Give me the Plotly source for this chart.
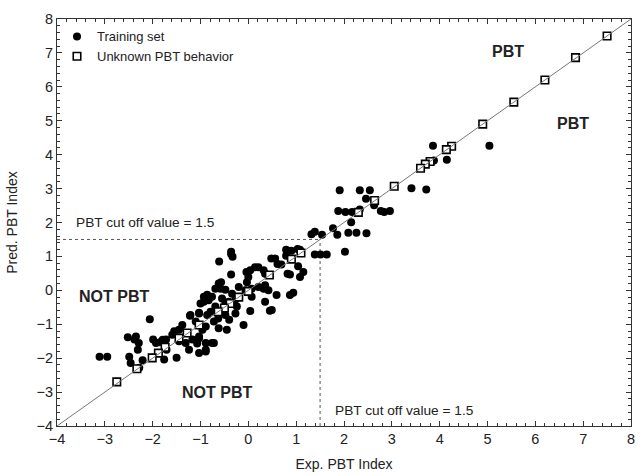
import plotly.graph_objects as go

# ---------------- data ----------------
train_x = [3.86, 5.04, 3.88, 4.15, 3.41, 3.72,
           1.91, 2.33, 2.54, 2.46, 2.63,
           1.88, 2.03, 2.17, 2.33, 2.77, 2.84, 2.96,
           2.15, 2.09, 2.26, 2.47, 1.77, 1.86,
           1.32, 1.39, 1.54,
           2.02, 1.39, 1.51, 1.64,
           0.79, 0.90, 1.03, 1.08,
           0.48, 0.56, 0.79, 0.61, 0.69, 1.04,
           0.14, 0.04, 0.32, 0.82, 1.15, 0.35,
           0.87, 1.08, 0.21,
           -0.36, -0.33, -0.36, -0.61, -0.04, -0.36, -0.57, -0.62,
           -0.86, -0.93, -0.69, -0.58, -0.48, -0.34, -0.20, -0.06, 0.07, 0.21, 0.32, 0.42, 0.59, 0.35, -0.03, 0.00,
           0.87, 0.94,
           0.49, 0.04, 0.45,
           -0.55, -0.48, -0.69, -0.79, -0.86, -0.63, -0.40, -0.27, -0.10, -0.24,
           -0.76, -1.00, -0.83, -0.41, -0.27, 0.07, 0.35,
           -0.93, -1.03, -0.48, -0.72, -0.62, -0.45, -0.89,
           -1.22, -1.10, -1.38, -1.45, -1.59, -1.72, -1.85, -1.93, -2.06,
           -1.55, -1.21, -1.03,
           -2.52, -2.35, -2.38, -2.29, -2.31, -2.49, -2.46, -2.28, -3.11, -2.95,
           -1.99, -1.76, -1.50, -1.03, -0.89, -0.76, -0.89, -1.03, -1.17, -0.96, -1.31, -1.24,
           -2.21, -1.71, -1.03, -0.72, -1.07, -1.45, -1.79, -0.89]
train_y = [4.26, 4.26, 3.83, 3.85, 3.01, 2.97,
           2.95, 2.95, 2.95, 2.70, 2.51,
           2.34, 2.31, 2.31, 2.38, 2.34, 2.31, 2.34,
           2.01, 1.70, 1.70, 1.68, 1.83, 1.64,
           1.65, 1.73, 1.64,
           1.14, 1.06, 1.06, 1.06,
           1.20, 1.17, 1.22, 1.20,
           0.94, 0.94, 1.02, 0.78, 0.76, 0.71,
           0.68, 0.59, 0.59, 0.49, 0.54, 0.49,
           0.47, 0.39, 0.68,
           1.07, 0.99, 1.14, 0.85, 0.54, 0.47, 0.24, 0.20,
           -0.13, -0.19, 0.05, 0.05, 0.02, -0.10, 0.10, 0.00, 0.05, 0.10, 0.05, 0.00, -0.14, 0.15, 0.24, 0.39,
           -0.14, -0.07,
           -0.58, -0.61, -0.60,
           -0.24, -0.39, -0.48, -0.63, -0.73, -0.83, -0.87, -0.68, -1.02, -0.48,
           -0.19, -0.39, -0.29, -0.34, -0.27, -0.19, -0.34,
           -0.34, -0.68, -0.73, -0.92, -1.12, -1.16, -1.07,
           -0.75, -0.92, -1.02, -1.16, -1.31, -1.45, -1.53, -1.55, -0.85,
           -1.21, -0.73, -0.66,
           -1.38, -1.36, -1.45, -1.55, -1.75, -1.96, -2.14, -2.28, -1.96, -1.96,
           -1.45, -2.04, -1.99, -1.85, -1.75, -1.55, -1.55, -1.36, -1.45, -1.16, -1.55, -1.75,
           -2.06, -1.75, -1.41, -1.55, -1.57, -1.50, -1.46, -1.80]

unknown_x = [7.50, 6.84, 6.20, 5.55, 4.90, 4.25, 4.14, 3.80, 3.70, 3.60, 3.05, 2.64, 2.30,
             1.10, 0.90, 0.44, 0.00, -0.20, -0.38, -0.50, -0.63, -1.03, -1.28, -1.45,
             -1.74, -1.88, -2.01, -2.33, -2.75]
unknown_y = [7.50, 6.86, 6.20, 5.55, 4.90, 4.25, 4.15, 3.80, 3.72, 3.60, 3.07, 2.65, 2.30,
             1.10, 0.92, 0.45, -0.03, -0.20, -0.39, -0.52, -0.63, -1.02, -1.26, -1.41,
             -1.68, -1.85, -1.99, -2.31, -2.70]

axis_range = [-4, 8]
identity_line = [-4, 8]
cutoff = 1.5

FONT = "Liberation Sans, Arial, sans-serif"
TXT = "#222222"

fig = go.Figure()
fig.add_trace(go.Scatter(
    x=train_x, y=train_y, mode="markers", name="Training set",
    marker=dict(symbol="circle", size=8, color="black", line=dict(width=0))))
fig.add_trace(go.Scatter(
    x=unknown_x, y=unknown_y, mode="markers", name="Unknown PBT behavior",
    marker=dict(symbol="square", size=7.5, color="white",
                line=dict(width=1.6, color="black"))))
fig.add_trace(go.Scatter(
    x=identity_line, y=identity_line, mode="lines", showlegend=False,
    line=dict(color="#777777", width=1), hoverinfo="skip"))

# cut-off dotted lines
fig.add_shape(type="line", x0=axis_range[0], x1=cutoff, y0=cutoff, y1=cutoff,
              line=dict(color="#555555", width=1, dash="dot"), layer="below")
fig.add_shape(type="line", x0=cutoff, x1=cutoff, y0=axis_range[0], y1=cutoff,
              line=dict(color="#555555", width=1, dash="dot"), layer="below")

def ann(text, x, y, size, bold=False, xanchor="center"):
    fig.add_annotation(x=x, y=y, text=f"<b>{text}</b>" if bold else text,
                       showarrow=False, xanchor=xanchor, yanchor="middle",
                       font=dict(family=FONT, size=size, color=TXT))

ann("PBT cut off value = 1.5", -3.65, 1.99, 13.7, xanchor="left")
ann("PBT cut off value = 1.5", 1.76, -3.55, 13.7, xanchor="left")
ann("NOT PBT", -2.80, -0.19, 16, bold=True)
ann("NOT PBT", -0.65, -3.0, 16, bold=True)
ann("PBT", 5.42, 7.03, 16, bold=True)
ann("PBT", 6.78, 4.91, 16, bold=True)

axis_common = dict(
    range=axis_range, dtick=1, tick0=0, showgrid=False, zeroline=False,
    showline=True, linecolor="#333333", linewidth=1, mirror="allticks",
    ticks="inside", ticklen=5, tickwidth=1, tickcolor="#333333",
    tickfont=dict(family=FONT, size=14.5, color=TXT),
    minor=dict(ticks="inside", ticklen=3, dtick=0.2, tickcolor="#333333", showgrid=False),
)

fig.update_layout(
    width=641, height=475,
    margin=dict(l=57, r=6, t=19, b=44),
    plot_bgcolor="white", paper_bgcolor="white",
    font=dict(family=FONT, size=14, color=TXT),
    xaxis=dict(**axis_common, title=dict(text="Exp. PBT Index", standoff=12,
                                         font=dict(family=FONT, size=14, color=TXT))),
    yaxis=dict(**axis_common, title=dict(text="Pred. PBT Index", standoff=15,
                                         font=dict(family=FONT, size=14, color=TXT))),
    legend=dict(x=0.0, y=0.994, xanchor="left", yanchor="top",
                bgcolor="rgba(0,0,0,0)", borderwidth=0,
                font=dict(family=FONT, size=13, color=TXT),
                tracegroupgap=0),
    showlegend=True,
)

fig.write_html("out.html", config={"displayModeBar": False},
               post_script="document.body.style.margin='0';document.body.style.padding='0';")
